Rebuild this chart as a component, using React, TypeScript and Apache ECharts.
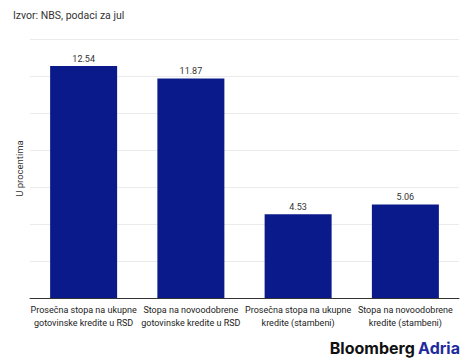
import React, { useEffect, useRef } from "react";
import * as echarts from "echarts";

const categories = [
  "Prosečna stopa na ukupne\ngotovinske kredite u RSD",
  "Stopa na novoodobrene\ngotovinske kredite u RSD",
  "Prosečna stopa na ukupne\nkredite (stambeni)",
  "Stopa na novoodobrene\nkredite (stambeni)",
];
const values = [12.54, 11.87, 4.53, 5.06];
const sourceText = "Izvor: NBS, podaci za jul";
const yAxisName = "U procentima";

const FONT = "Roboto, sans-serif";
const LOGO_FONT = "Inter, 'Noto Sans', sans-serif";

export default function App() {
  const ref = useRef<HTMLDivElement>(null);
  useEffect(() => {
    if (!ref.current) return;
    const chart = echarts.init(ref.current, undefined, { renderer: "svg" });
    chart.setOption({
      animation: false,
      backgroundColor: "#ffffff",
      textStyle: { fontFamily: FONT },
      title: {
        text: sourceText,
        left: 8,
        top: 5,
        textStyle: { fontSize: 10.5, fontWeight: "normal", color: "#333", fontFamily: FONT },
      },
      graphic: [
        {
          type: "text",
          right: 8,
          top: 340,
          style: {
            text: "{a|Bloomberg} {b|Adria}",
            rich: {
              a: { fontSize: 16, fontWeight: "bold", fill: "#111", fontFamily: LOGO_FONT },
              b: { fontSize: 16, fontWeight: "bold", fill: "#1f2a9c", fontFamily: LOGO_FONT },
            },
          },
        },
      ],
      grid: { left: 30, right: 9, top: 39, bottom: 63 },
      xAxis: {
        type: "category",
        data: categories,
        axisTick: { show: false },
        axisLine: { lineStyle: { color: "#333", width: 1 } },
        axisLabel: {
          interval: 0,
          color: "#222",
          fontSize: 9,
          lineHeight: 13,
          margin: 5,
          fontFamily: FONT,
        },
      },
      yAxis: {
        type: "value",
        min: 0,
        max: 14,
        interval: 2,
        name: yAxisName,
        nameLocation: "middle",
        nameGap: 6,
        nameTextStyle: { fontSize: 9.5, color: "#333", fontFamily: FONT },
        axisLabel: { show: false },
        axisLine: { show: false },
        axisTick: { show: false },
        splitLine: { lineStyle: { color: "#ebebeb", width: 1 } },
      },
      series: [
        {
          type: "bar",
          data: values,
          barWidth: 67,
          itemStyle: { color: "#0b1a8a" },
          label: {
            show: true,
            position: "top",
            distance: 3,
            fontSize: 9,
            color: "#333",
            fontFamily: FONT,
            formatter: (p: any) => p.value.toFixed(2),
          },
        },
      ],
    });
    return () => chart.dispose();
  }, []);
  return (
    <div
      ref={ref}
      style={{ position: "fixed", left: 0, top: 0, width: 468, height: 361 }}
    />
  );
}
